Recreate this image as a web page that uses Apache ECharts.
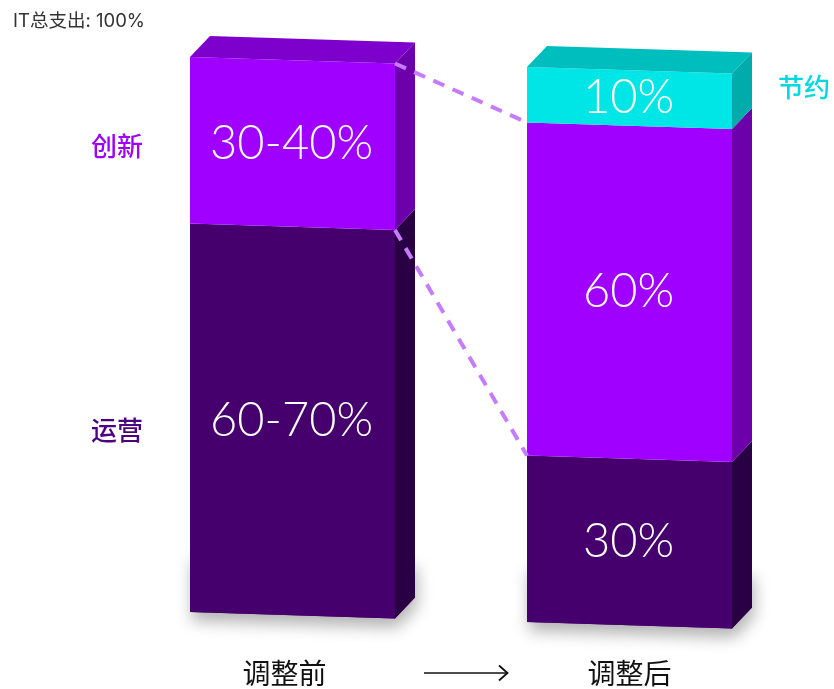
<!DOCTYPE html>
<html><head><meta charset="utf-8">
<script src="https://cdn.jsdelivr.net/npm/echarts@6/dist/echarts.min.js"></script>
<style>html,body{margin:0;padding:0;background:#fff}#c{width:834px;height:689px}</style>
</head><body><div id="c"></div>
<script>
// ---- data ----
const categories = ['调整前', '调整后'];
const seriesNames = ['运营', '创新', '节约'];
const opsValues = [70, 30];
const innovValues = [30, 60];
const saveValues = [0, 10];
const opsLabels = ['60-70%', '30%'];
const innovLabels = ['30-40%', '60%'];
const saveLabels = ['', '10%'];
const titleText = 'IT总支出: 100%';
const yMax = 100;

// ---- styles ----
const FRONT_W = 205, DEPTH_X = 20, DEPTH_Y = 21, SLANT = 6.5;
const SHIFT_X = [8, 0];
const DROP_Y = [0, 10];
const palette = {
  '运营': {front: '#46006e', side: '#2a0044', top: '#3a005c', name: '#4a0080'},
  '创新': {front: '#a000ff', side: '#6c00aa', top: '#7d00cc', name: '#9d00ff'},
  '节约': {front: '#00e6e6', side: '#00abab', top: '#00bebe', name: '#00d8e2'}
};

const valueSets = [opsValues, innovValues, saveValues];
const labelSets = [opsLabels, innovLabels, saveLabels];
const totals = categories.map((c, i) => valueSets.reduce((s, a) => s + a[i], 0));

function stackData(k) {
  return categories.map((c, i) => {
    let start = 0;
    for (let j = 0; j < k; j++) start += valueSets[j][i];
    return [i, start, start + valueSets[k][i]];
  });
}

function geom(api, i, v) {
  const p = api.coord([i, v]);
  const xl = p[0] - FRONT_W / 2 + SHIFT_X[i];
  return {xl: xl, xr: xl + FRONT_W, yl: p[1] + DROP_Y[i], yr: p[1] + DROP_Y[i] + SLANT};
}

function makeRender(k) {
  const c = palette[seriesNames[k]];
  return function (params, api) {
    const i = api.value(0), s = api.value(1), e = api.value(2);
    if (e - s <= 0) return null;
    const b = geom(api, i, s), t = geom(api, i, e);
    const children = [];
    if (s === 0) {
      children.push({type: 'polygon', shape: {points: [[b.xl, b.yl - 60], [b.xr + DEPTH_X, b.yr - 60], [b.xr + DEPTH_X, b.yr - DEPTH_Y], [b.xr, b.yr], [b.xl, b.yl]]},
        style: {fill: c.front, shadowBlur: 16, shadowOffsetY: 9, shadowOffsetX: 2, shadowColor: 'rgba(0,0,0,0.30)'}});
    }
    children.push({type: 'polygon', shape: {points: [[t.xr, t.yr], [t.xr + DEPTH_X, t.yr - DEPTH_Y], [b.xr + DEPTH_X, b.yr - DEPTH_Y], [b.xr, b.yr]]}, style: {fill: c.side}});
    children.push({type: 'polygon', shape: {points: [[t.xl, t.yl], [t.xr, t.yr], [b.xr, b.yr], [b.xl, b.yl]]}, style: {fill: c.front}});
    if (e >= totals[i]) {
      children.push({type: 'polygon', shape: {points: [[t.xl, t.yl], [t.xl + DEPTH_X, t.yl - DEPTH_Y], [t.xr + DEPTH_X, t.yr - DEPTH_Y], [t.xr, t.yr]]}, style: {fill: c.top}});
    }
    const label = labelSets[k][params.dataIndex];
    if (label) {
      children.push({type: 'text', style: {text: label, x: (t.xl + t.xr) / 2 - 1, y: (t.yl + b.yl) / 2 + SLANT / 2,
        align: 'center', verticalAlign: 'middle', fill: '#ffffff', font: '300 47px Lato, Roboto, sans-serif'}});
    }
    return {type: 'group', children: children};
  };
}

const connectors = [
  [0, opsValues[0] + innovValues[0], 1, opsValues[1] + innovValues[1]],
  [0, opsValues[0], 1, opsValues[1]]
];

const series = seriesNames.map((n, k) => ({
  name: n, type: 'custom', renderItem: makeRender(k), data: stackData(k),
  encode: {x: 0, y: [1, 2]}, z: 2 + k
}));
series.push({
  type: 'custom', z: 10, data: connectors, encode: {x: [0, 2], y: [1, 3]},
  renderItem: function (params, api) {
    const a = geom(api, api.value(0), api.value(1));
    const b = geom(api, api.value(2), api.value(3));
    return {type: 'line', shape: {x1: a.xr, y1: a.yr, x2: b.xl, y2: b.yl},
      style: {stroke: '#c57cff', lineWidth: 4, lineDash: [12, 9]}};
  }
});

const chart = echarts.init(document.getElementById('c'));
chart.setOption({
  backgroundColor: '#ffffff',
  animation: false,
  title: {text: titleText, left: 8, top: 7,
    textStyle: {fontSize: 18.5, fontWeight: 'normal', color: '#333', fontFamily: "Inter, 'Noto Sans CJK SC', sans-serif"}},
  grid: {left: 112, right: 32, top: 57, bottom: 77},
  xAxis: {type: 'category', data: categories, axisLine: {show: false}, axisTick: {show: false},
    axisLabel: {margin: 47, fontSize: 28, color: '#111', fontFamily: "'Noto Sans CJK SC', sans-serif"}},
  yAxis: {type: 'value', min: 0, max: yMax, show: false},
  series: series
});

// side name labels, placed from data
const px = (i, v) => chart.convertToPixel({gridIndex: 0}, [i, v]);
const leftEdge = px(0, 0)[0] - FRONT_W / 2 + SHIFT_X[0];
const rightEdge = px(1, 0)[0] + FRONT_W / 2 + SHIFT_X[1] + DEPTH_X;
const nameFont = "500 26px 'Noto Sans CJK SC', sans-serif";
const graphics = [
  {type: 'text', x: leftEdge - 73, y: px(0, opsValues[0] + innovValues[0] / 2)[1] + 6,
    style: {text: seriesNames[1], fill: palette['创新'].name, font: nameFont, align: 'center', verticalAlign: 'middle'}},
  {type: 'text', x: leftEdge - 73, y: px(0, opsValues[0] / 2)[1] + 12,
    style: {text: seriesNames[0], fill: palette['运营'].name, font: nameFont, align: 'center', verticalAlign: 'middle'}},
  {type: 'text', x: rightEdge + 52, y: px(1, totals[1] - saveValues[1] / 2)[1] + DROP_Y[1] - 8,
    style: {text: seriesNames[2], fill: palette['节约'].name, font: nameFont, align: 'center', verticalAlign: 'middle'}},
  {type: 'group', children: [
    {type: 'line', shape: {x1: 424, y1: 673, x2: 508, y2: 673}, style: {stroke: '#111', lineWidth: 1.6}},
    {type: 'polyline', shape: {points: [[499, 665.5], [507.5, 673], [499, 680.5]]}, style: {stroke: '#111', lineWidth: 1.8, fill: null}}
  ]}
];
chart.setOption({graphic: graphics});
</script>
</body></html>
